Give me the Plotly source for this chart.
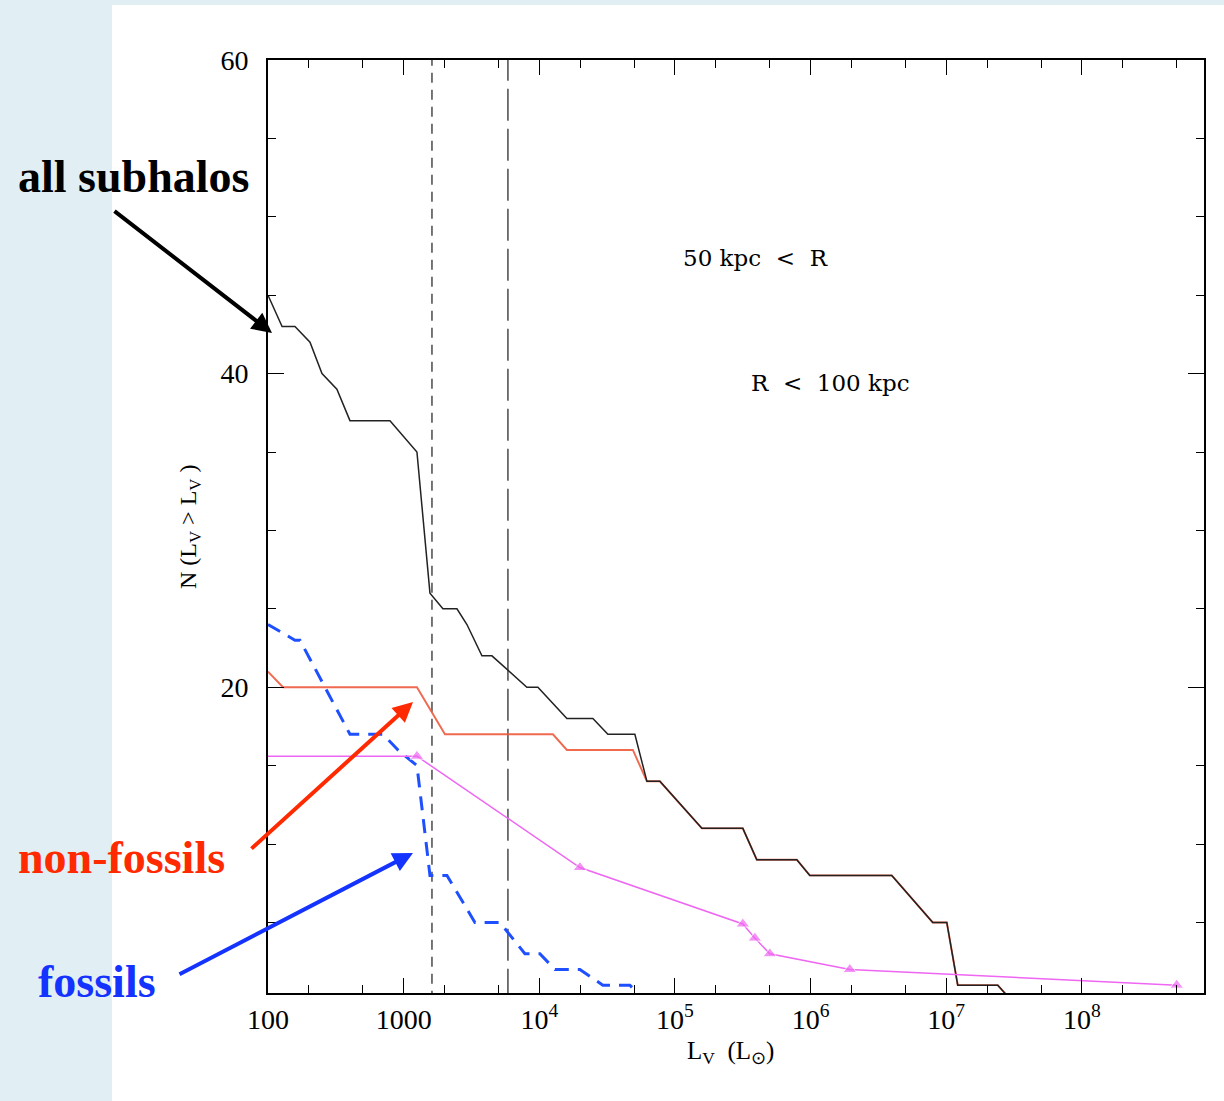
import plotly.graph_objects as go

# ---------------- data ----------------
all_L = [100, 127, 158, 204, 250, 322, 402, 793, 1253, 1563, 1948, 2471, 2928, 3776, 4475,
         8100, 9765, 15970, 24830, 32030, 50640, 62100, 77400, 157900, 316500, 401200,
         791300, 986500, 3.966e6, 7.953e6, 1.009e7, 1.215e7, 2.396e7, 3.039e7]
all_N = [45, 43, 43, 42, 40, 39, 37, 37, 35, 26, 25, 25, 24, 22, 22,
         20, 20, 18, 18, 17, 17, 14, 14, 11, 11, 9,
         9, 8, 8, 5, 5, 1, 1, 0]

nonfossil_L = [100, 129, 1253, 2016, 12600, 15970, 48950, 62100, 77400, 157900, 316500,
               401200, 791300, 986500, 3.966e6, 7.953e6, 1.009e7, 1.215e7, 2.396e7, 3.039e7]
nonfossil_N = [21, 20, 20, 17, 17, 16, 16, 14, 14, 11, 11,
               9, 9, 8, 8, 5, 5, 1, 1, 0]

fossil_L = [100, 158, 172, 402, 704, 908, 1253, 1563, 2085, 3353, 5126, 7834, 10100,
            13030, 19920, 29420, 46530, 60020]
fossil_N = [24, 23, 23, 17, 17, 16, 15, 8, 8, 5, 5, 3, 3,
            2, 2, 1, 1, 0]

obs_L = [100, 1253, 19920, 316500, 388000, 500400, 1.945e6, 4.996e8]
obs_N = [15.6, 15.6, 8.5, 4.9, 4, 3, 2, 1]

vline_short_L = 1617
vline_long_L = 5870

x_tickvals = [100, 1000, 1e4, 1e5, 1e6, 1e7, 1e8]
x_ticktext = ["100", "1000", "10<sup>4</sup>", "10<sup>5</sup>", "10<sup>6</sup>",
              "10<sup>7</sup>", "10<sup>8</sup>"]
y_tickvals = [20, 40, 60]

# ---------------- figure ----------------
SERIF = "Liberation Serif, Times New Roman, serif"
WIDE_SERIF = "DejaVu Serif, serif"
fig = go.Figure()

fig.add_trace(go.Scatter(x=[vline_short_L, vline_short_L], y=[0, 60], mode="lines",
                         line=dict(color="#555555", width=1.6, dash="10px,7px"),
                         hoverinfo="skip", showlegend=False))
fig.add_trace(go.Scatter(x=[vline_long_L, vline_long_L], y=[0, 60], mode="lines",
                         line=dict(color="#555555", width=1.6, dash="32px,8px"),
                         hoverinfo="skip", showlegend=False))

fig.add_trace(go.Scatter(x=nonfossil_L, y=nonfossil_N, mode="lines",
                         line=dict(color="#ee5a3c", width=1.9), opacity=0.9, showlegend=False))
fig.add_trace(go.Scatter(x=all_L, y=all_N, mode="lines",
                         line=dict(color="#222222", width=1.5), showlegend=False))
fig.add_trace(go.Scatter(x=fossil_L, y=fossil_N, mode="lines",
                         line=dict(color="#1f50ff", width=3, dash="14px,9px"), showlegend=False))
marker_sizes = [0] + [12] * (len(obs_L) - 1)
fig.add_trace(go.Scatter(x=obs_L, y=obs_N, mode="lines+markers",
                         line=dict(color="#ee66f2", width=1.5),
                         marker=dict(symbol="triangle-up", size=marker_sizes, color="#ee66f2"),
                         showlegend=False))

axis_common = dict(showgrid=False, zeroline=False, showline=True, linecolor="black",
                   linewidth=2, mirror="allticks", ticks="inside", tickcolor="black",
                   tickwidth=1.3)

fig.update_xaxes(type="log", range=[2, 8.9], tickvals=x_tickvals, ticktext=x_ticktext,
                 ticklen=15, tickfont=dict(family=SERIF, size=28, color="black"),
                 ticklabelstandoff=0,
                 minor=dict(ticks="inside", ticklen=8, tickcolor="black", tickwidth=1.2,
                            showgrid=False),
                 **axis_common)
fig.update_yaxes(range=[0.5, 60], tickvals=y_tickvals, ticklen=16,
                 tickfont=dict(family=SERIF, size=28, color="black"),
                 ticklabelstandoff=12,
                 minor=dict(ticks="inside", ticklen=8, dtick=5, tickcolor="black",
                            tickwidth=1.2, showgrid=False),
                 **axis_common)

W, H = 1224, 1101
ml, mr, mt, mb = 268, 20, 60, 108
pw, ph = W - ml - mr, H - mt - mb


def px(xp):
    return (xp - ml) / pw


def py(yp):
    return (H - mb - yp) / ph


# white panel over light-blue page
fig.add_shape(type="rect", xref="paper", yref="paper", x0=px(112), x1=px(1230),
              y0=py(1110), y1=py(5), fillcolor="white", line=dict(width=0), layer="below")

anns = []


def text_ann(text, x, y, size, color="black", family=SERIF, angle=0):
    anns.append(dict(text=text, x=px(x), y=py(y), xref="paper", yref="paper",
                     xanchor="center", yanchor="middle", showarrow=False, textangle=angle,
                     font=dict(family=family, size=size, color=color)))


text_ann("50 kpc&nbsp; &lt;&nbsp; R", 755, 258, 23, family=WIDE_SERIF)
text_ann("R&nbsp; &lt;&nbsp; 100 kpc", 830, 383, 23, family=WIDE_SERIF)
text_ann("L<sub>V</sub>  (L<sub>⊙</sub>)", 730, 1052, 25)
text_ann("N (L<sub>V</sub> &gt; L<sub>V</sub> )", 190, 527, 24, angle=-90)

labels = [
    ("all subhalos", 133, 176, "black"),
    ("non-fossils", 121, 857, "#ff2a00"),
    ("fossils", 97, 981, "#1433ff"),
]
for t, x, y, c in labels:
    text_ann("<b>" + t + "</b>", x, y, 46, color=c)

arrows = [
    ((272, 333), (113, 210), "black"),
    ((413, 702), (250, 850), "#ff2a00"),
    ((413, 853), (178, 975), "#1433ff"),
]
for (hx, hy), (tx, ty), c in arrows:
    anns.append(dict(text="", x=px(hx), y=py(hy), xref="paper", yref="paper",
                     ax=tx - hx, ay=ty - hy, showarrow=True, arrowhead=2, arrowsize=1,
                     arrowwidth=4, arrowcolor=c))

fig.update_layout(width=W, height=H, margin=dict(l=ml, r=mr, t=mt, b=mb),
                  paper_bgcolor="#e1eff5", plot_bgcolor="white", annotations=anns,
                  showlegend=False)

fig.write_html("out.html")
